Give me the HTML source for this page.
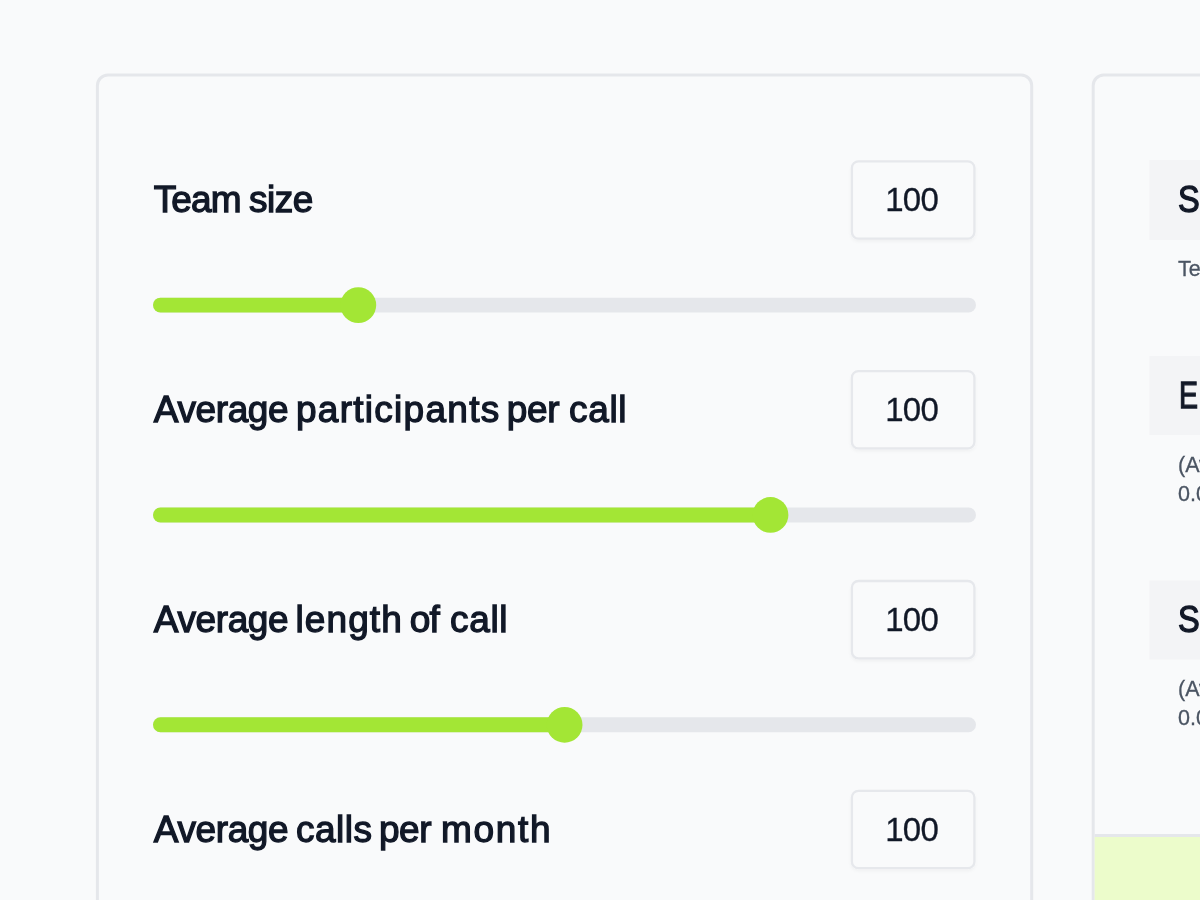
<!DOCTYPE html>
<html lang="en">
<head>
<meta charset="utf-8">
<title>Calculator</title>
<style>
  html, body { margin: 0; padding: 0; }
  body {
    width: 1200px; height: 900px; overflow: hidden; position: relative;
    background: #f9fafb;
    font-family: "Liberation Sans", sans-serif;
    color: #111827;
  }
  #shapes { position: absolute; left: 0; top: 0; width: 1200px; height: 900px; display: block; }
  .label {
    position: absolute; left: 0; width: 0; height: 80px; line-height: 80px;
    font-size: 37px; font-weight: normal; white-space: nowrap;
    -webkit-text-stroke: 1.3px #111827; color: #111827;
  }
  .label span { position: absolute; top: 0; }
  .num {
    position: absolute; left: 849px; width: 126px; height: 80px;
    font-size: 33px; line-height: 80px; text-align: center; color: #111827;
    letter-spacing: -0.7px; text-indent: -0.7px;
    -webkit-text-stroke: 0.3px #111827;
  }
  .hd {
    position: absolute; left: 1149px; width: 100px; height: 80px;
    font-size: 37px; font-weight: normal; -webkit-text-stroke: 1.3px #111827;
    line-height: 80px; white-space: nowrap; overflow: hidden;
    color: #111827;
  }
  .hd span { position: absolute; top: 0; transform-origin: 0 50%; }
  .sub {
    position: absolute; left: 1178px; width: 40px; font-size: 21.5px; line-height: 29.5px; color: #4b5563;
    -webkit-text-stroke: 0.3px #4b5563;
    white-space: nowrap; overflow: hidden;
  }
</style>
</head>
<body>
  <svg id="shapes" width="1200" height="900" viewBox="0 0 1200 900">
    <defs><filter id="sh" x="-20%" y="-20%" width="140%" height="150%"><feDropShadow dx="0" dy="2" stdDeviation="1.5" flood-color="#000" flood-opacity="0.035"/></filter></defs>
    <rect x="97.4" y="75.1" width="934.3" height="900" rx="10.5" fill="#f9fafb" stroke="#e5e7eb" stroke-width="3"/>
    <rect x="1093.2" y="75.1" width="300" height="900" rx="10.5" fill="#f9fafb" stroke="#e5e7eb" stroke-width="3"/>
    <rect x="851.9" y="161.30" width="122.5" height="77.3" rx="6.5" fill="#f9fafb" stroke="#e6e8ec" stroke-width="2.3" filter="url(#sh)"/>
    <rect x="153" y="297.65" width="823" height="14.9" rx="7.45" fill="#e5e7eb"/>
    <rect x="153" y="297.65" width="205.3" height="14.9" rx="7.45" fill="#a3e635"/>
    <circle cx="358.3" cy="305.10" r="17.9" fill="#a3e635"/>
    <rect x="851.9" y="371.15" width="122.5" height="77.3" rx="6.5" fill="#f9fafb" stroke="#e6e8ec" stroke-width="2.3" filter="url(#sh)"/>
    <rect x="153" y="507.50" width="823" height="14.9" rx="7.45" fill="#e5e7eb"/>
    <rect x="153" y="507.50" width="617.5" height="14.9" rx="7.45" fill="#a3e635"/>
    <circle cx="770.5" cy="514.95" r="17.9" fill="#a3e635"/>
    <rect x="851.9" y="581.00" width="122.5" height="77.3" rx="6.5" fill="#f9fafb" stroke="#e6e8ec" stroke-width="2.3" filter="url(#sh)"/>
    <rect x="153" y="717.35" width="823" height="14.9" rx="7.45" fill="#e5e7eb"/>
    <rect x="153" y="717.35" width="411.6" height="14.9" rx="7.45" fill="#a3e635"/>
    <circle cx="564.6" cy="724.80" r="17.9" fill="#a3e635"/>
    <rect x="851.9" y="790.85" width="122.5" height="77.3" rx="6.5" fill="#f9fafb" stroke="#e6e8ec" stroke-width="2.3" filter="url(#sh)"/>
    <rect x="1149.4" y="160" width="100" height="80" fill="#f3f4f6"/>
    <rect x="1149.4" y="356" width="100" height="79" fill="#f3f4f6"/>
    <rect x="1149.4" y="580.5" width="100" height="79.0" fill="#f3f4f6"/>
    <rect x="1094.7" y="834" width="120" height="3" fill="#e5e7eb"/>
    <rect x="1094.7" y="837" width="120" height="80" fill="#ecfccb"/>
  </svg>
  <div class="label" style="top:160px"><span style="left:153.75px;letter-spacing:-0.92px">Team</span> <span style="left:249.00px;letter-spacing:-0.50px">size</span></div>
  <div class="num" style="top:160px">100</div>
  <div class="label" style="top:370px"><span style="left:153.75px;letter-spacing:-0.38px">Average</span> <span style="left:296.00px;letter-spacing:1.27px">participants</span> <span style="left:506.75px;letter-spacing:-0.38px">per</span> <span style="left:569.00px;letter-spacing:0.67px">call</span></div>
  <div class="num" style="top:370px">100</div>
  <div class="label" style="top:580px"><span style="left:153.75px;letter-spacing:-0.38px">Average</span> <span style="left:295.50px;letter-spacing:1.10px">length</span> <span style="left:409.75px;letter-spacing:-0.75px">of</span> <span style="left:450.00px;letter-spacing:0.67px">call</span></div>
  <div class="num" style="top:580px">100</div>
  <div class="label" style="top:790px"><span style="left:153.75px;letter-spacing:-0.38px">Average</span> <span style="left:296.00px;letter-spacing:0.50px">calls</span> <span style="left:379.00px;letter-spacing:-0.50px">per</span> <span style="left:441.00px;letter-spacing:1.69px">month</span></div>
  <div class="num" style="top:790px">100</div>
  <div class="hd" style="top:160px"><span style="left:29px;transform:scaleX(0.88)">Summary</span></div>
  <div class="sub" style="top:254.8px">Team size</div>
  <div class="hd" style="top:356px;height:79px;line-height:79px"><span style="left:29.5px;letter-spacing:6px;transform:scaleX(0.77)">Estimate</span></div>
  <div class="sub" style="top:450.7px">(Average participants<br>0.00</div>
  <div class="hd" style="top:580px"><span style="left:29px;transform:scaleX(0.88)">Savings</span></div>
  <div class="sub" style="top:674.8px">(Average length<br>0.00</div>
</body>
</html>
